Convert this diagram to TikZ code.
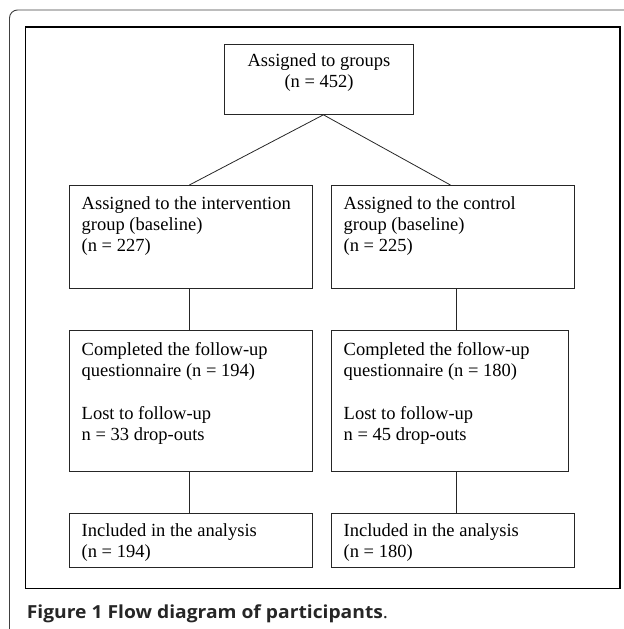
\documentclass[tikz,border=0pt]{standalone}
\usepackage{fontspec}
\setmainfont{Liberation Serif}
\newfontfamily\capfont[FakeStretch=1.07]{Open Sans}
\begin{document}
\begin{tikzpicture}[x=1bp,y=-1bp,
  box/.style={draw=black!85, line width=0.8bp, inner sep=0pt, anchor=north west},
  txt/.style={inner sep=0pt, anchor=base west, font=\fontsize{18.5bp}{21bp}\selectfont},
  ctxt/.style={inner sep=0pt, anchor=base, font=\fontsize{18.5bp}{21bp}\selectfont},
  conn/.style={draw=black!85, line width=0.8bp}]
\useasboundingbox (0,0) rectangle (624,629);
% outer frame
\draw[black!75, line width=0.9bp, rounded corners=8bp] (9.5,629) -- (9.5,10) -- (624,10);
% inner frame
\draw[black, line width=1.1bp] (25.5,27) rectangle (620,588.5);
% boxes
\node[box, minimum width=189bp, minimum height=70bp] (top) at (224,44) {};
\node[box, minimum width=243bp, minimum height=103bp] (lb1) at (69,185) {};
\node[box, minimum width=243bp, minimum height=103bp] (rb1) at (331,185) {};
\node[box, minimum width=243bp, minimum height=141bp] (lb2) at (69,330) {};
\node[box, minimum width=237bp, minimum height=141bp] (rb2) at (331,330) {};
\node[box, minimum width=243bp, minimum height=54bp] (lb3) at (69,513) {};
\node[box, minimum width=243bp, minimum height=54bp] (rb3) at (331,513) {};
% texts
\node[ctxt] (t1) at (319,66.7) {Assigned to groups};
\node[ctxt] (t2) at (319,88) {(n = 452)};
\node[txt] (l11) at (81.5,209) {Assigned to the intervention};
\node[txt] (l12) at (81.5,230) {group (baseline)};
\node[txt] (l13) at (81.5,251) {(n = 227)};
\node[txt] (r11) at (343.5,209) {Assigned to the control};
\node[txt] (r12) at (343.5,230) {group (baseline)};
\node[txt] (r13) at (343.5,251) {(n = 225)};
\node[txt] (l21) at (81.5,355) {Completed the follow-up};
\node[txt] (l22) at (81.5,376) {questionnaire (n = 194)};
\node[txt] (l23) at (81.5,419) {Lost to follow-up};
\node[txt] (l24) at (81.5,440) {n = 33 drop-outs};
\node[txt] (r21) at (343.5,355) {Completed the follow-up};
\node[txt] (r22) at (343.5,376) {questionnaire (n = 180)};
\node[txt] (r23) at (343.5,419) {Lost to follow-up};
\node[txt] (r24) at (343.5,440) {n = 45 drop-outs};
\node[txt] (l31) at (81.5,536) {Included in the analysis};
\node[txt] (l32) at (81.5,557) {(n = 194)};
\node[txt] (r31) at (343.5,536) {Included in the analysis};
\node[txt] (r32) at (343.5,557) {(n = 180)};
% connectors
\draw[conn] ([xshift=4.5bp]top.south) -- ([xshift=-1.5bp]lb1.north);
\draw[conn] ([xshift=4.5bp]top.south) -- ([xshift=-2.5bp]rb1.north);
\draw[conn] ([xshift=-1.2bp]lb1.south) -- ([xshift=-1.2bp]lb2.north);
\draw[conn] ([xshift=3.5bp]rb1.south) -- ([xshift=6.5bp]rb2.north);
\draw[conn] ([xshift=-1.2bp]lb2.south) -- ([xshift=-1.2bp]lb3.north);
\draw[conn] ([xshift=6.5bp]rb2.south) -- ([xshift=3.5bp]rb3.north);
% caption
\node[inner sep=0pt, anchor=base west, text=black!85, font=\capfont\fontsize{18bp}{21bp}\selectfont] (cap) at (26.7,618) {\bfseries Figure 1 Flow diagram of participants\mdseries.};
\end{tikzpicture}
\end{document}
